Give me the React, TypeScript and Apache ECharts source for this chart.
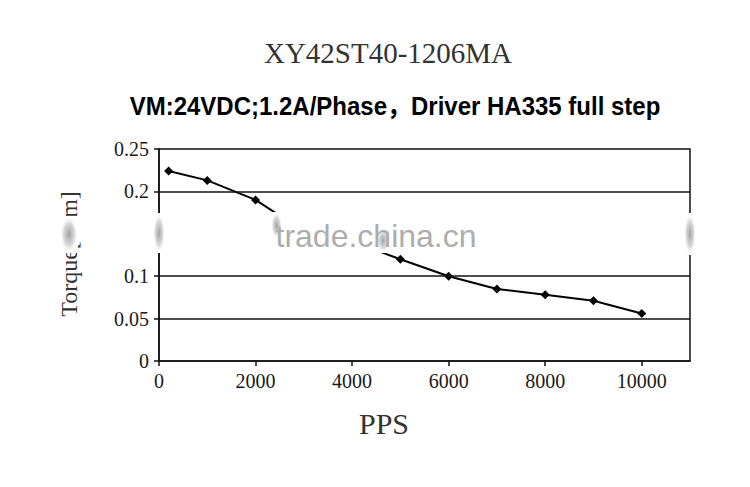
import React, { useEffect, useRef } from "react";
import * as echarts from "echarts";

const titleText = "XY42ST40-1206MA";
const subtitleText = "VM:24VDC;1.2A/Phase，Driver HA335 full step";
const xName = "PPS";
const yName = "Torque[N.m]";
const watermark = "trade.china.cn";

const xTicks = [0, 2000, 4000, 6000, 8000, 10000];
const yTicks = [0, 0.05, 0.1, 0.2, 0.25];
const gridValues = [0.05, 0.1, 0.2];

const pps = [200, 1000, 2000, 5000, 6000, 7000, 8000, 9000, 10000];
const torque = [0.224, 0.213, 0.19, 0.12, 0.1, 0.085, 0.078, 0.071, 0.056];
// visible ends of the trace where it disappears under the watermark
const traceBreakStart = [2430, 0.174];
const traceBreakEnd = [4570, 0.129];

function blob(x: number, y: number, w: number, h: number) {
  return [
    { type: "rect", z: 100, shape: { x, y, width: w, height: h }, style: { fill: "#ffffff" } },
    {
      type: "rect",
      z: 101,
      shape: { x, y, width: w, height: h },
      style: {
        fill: new echarts.graphic.RadialGradient(0.5, 0.5, 0.5, [
          { offset: 0, color: "rgba(150,150,150,0.9)" },
          { offset: 0.6, color: "rgba(190,190,190,0.6)" },
          { offset: 1, color: "rgba(255,255,255,0)" },
        ]),
      },
    },
  ];
}

export default function App() {
  const ref = useRef<HTMLDivElement>(null);
  useEffect(() => {
    if (!ref.current) return;
    const chart = echarts.init(ref.current, undefined, { renderer: "svg" });
    const pts = pps.map((x, i) => [x, torque[i]]);
    const seg1: any[] = pts.filter((p) => p[0] <= traceBreakStart[0]).map((p) => ({ value: p }));
    seg1.push({ value: traceBreakStart, symbol: "none" });
    const seg2: any[] = [{ value: traceBreakEnd, symbol: "none" }];
    pts.filter((p) => p[0] >= traceBreakEnd[0]).forEach((p) => seg2.push({ value: p }));

    const lineStyle = { color: "#000", width: 2 };
    const serif = "Liberation Serif";
    chart.setOption({
      animation: false,
      backgroundColor: "#fff",
      grid: {
        left: 159,
        right: 60,
        top: 149,
        bottom: 126,
        show: true,
        borderColor: "#111",
        borderWidth: 1.5,
      },
      xAxis: {
        type: "value",
        min: 0,
        max: 11000,
        interval: 2000,
        splitLine: { show: false },
        axisLine: { show: true, lineStyle: { color: "#111", width: 1.5 } },
        axisTick: { show: true, customValues: xTicks, length: 5, lineStyle: { color: "#111", width: 1.5 } },
        axisLabel: {
          customValues: xTicks,
          fontFamily: serif,
          fontSize: 20,
          color: "#1a1a1a",
          margin: 10,
          formatter: (v: number) => String(v),
        },
      },
      yAxis: {
        type: "value",
        min: 0,
        max: 0.25,
        interval: 0.05,
        splitLine: { show: false },
        axisLine: { show: true, lineStyle: { color: "#111", width: 1.5 } },
        axisTick: { show: true, customValues: yTicks, length: 5, lineStyle: { color: "#111", width: 1.5 } },
        axisLabel: {
          customValues: yTicks,
          fontFamily: serif,
          fontSize: 20,
          color: "#1a1a1a",
          margin: 10,
          formatter: (v: number) => String(Math.round(v * 100) / 100),
        },
      },
      series: [
        {
          type: "line",
          data: seg1,
          symbol: "diamond",
          symbolSize: 9,
          itemStyle: { color: "#000" },
          lineStyle,
          markLine: {
            silent: true,
            symbol: ["none", "none"],
            label: { show: false },
            lineStyle: { color: "#111", width: 1.5, type: "solid" },
            data: gridValues.map((v) => ({ yAxis: v })),
          },
        },
        {
          type: "line",
          data: seg2,
          symbol: "diamond",
          symbolSize: 9,
          itemStyle: { color: "#000" },
          lineStyle,
        },
      ],
      graphic: [
        {
          type: "text",
          x: 388,
          y: 53,
          style: {
            text: titleText,
            font: `29px "${serif}"`,
            fill: "#333",
            textAlign: "center",
            textVerticalAlign: "middle",
          },
        },
        {
          type: "text",
          x: 395,
          y: 106,
          scaleY: 1.1,
          style: {
            text: subtitleText,
            font: `bold 24px "Liberation Sans", "Noto Sans CJK SC"`,
            fill: "#000",
            textAlign: "center",
            textVerticalAlign: "middle",
          },
        },
        {
          type: "text",
          x: 384,
          y: 423,
          style: {
            text: xName,
            font: `30px "${serif}"`,
            fill: "#333",
            textAlign: "center",
            textVerticalAlign: "middle",
          },
        },
        {
          type: "text",
          x: 69,
          y: 254,
          rotation: Math.PI / 2,
          style: {
            text: yName,
            font: `24px "${serif}"`,
            fill: "#333",
            textAlign: "center",
            textVerticalAlign: "middle",
          },
        },
        ...blob(60, 216, 18, 37),
        ...blob(153, 213, 12, 40),
        ...blob(271, 212, 11, 27),
        ...blob(377, 228, 12, 25),
        ...blob(684, 213, 12, 42),
        {
          type: "text",
          z: 102,
          x: 376,
          y: 236,
          style: {
            text: watermark,
            font: `32px "Liberation Sans"`,
            fill: "#adadad",
            textAlign: "center",
            textVerticalAlign: "middle",
          },
        },
      ],
    });
    return () => chart.dispose();
  }, []);
  return <div ref={ref} style={{ width: 750, height: 487, position: "absolute", left: 0, top: 0 }} />;
}
